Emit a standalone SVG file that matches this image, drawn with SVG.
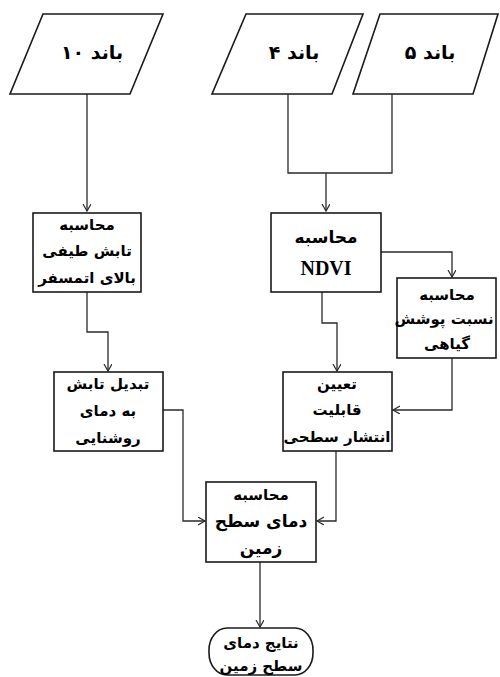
<svg xmlns="http://www.w3.org/2000/svg" width="500" height="677" viewBox="0 0 500 677">
<style>
.s{fill:#fff;stroke:#1a1a1a;stroke-width:1.6}
.c{fill:none;stroke:#2a2a2a;stroke-width:1.3}
.t{font-family:"DejaVu Sans",sans-serif;font-weight:bold;font-size:15px;fill:#000;text-anchor:middle}
.b{font-size:17px}
.g{font-size:19px}
.n{font-family:"Liberation Serif",serif;font-weight:bold;font-size:20px;fill:#000;text-anchor:middle}
</style>
<defs>
<marker id="a" markerUnits="userSpaceOnUse" markerWidth="10" markerHeight="10" refX="7" refY="4" orient="auto">
<path d="M0,0 L7,4 L0,8" fill="none" stroke="#2a2a2a" stroke-width="1.2"/>
</marker>
</defs>
<rect width="500" height="677" fill="#fff"/>
<g id="connectors">
<path class="c" d="M87,94 V211" marker-end="url(#a)"/>
<path class="c" d="M288,94 V173 H392 V94"/>
<path class="c" d="M326,173 V211" marker-end="url(#a)"/>
<path class="c" d="M381,252 H452 V277" marker-end="url(#a)"/>
<path class="c" d="M87,292 V332 H108 V371" marker-end="url(#a)"/>
<path class="c" d="M322,292 V323 H337 V371" marker-end="url(#a)"/>
<path class="c" d="M452,358 V410 H393" marker-end="url(#a)"/>
<path class="c" d="M163,410 H183 V521 H205" marker-end="url(#a)"/>
<path class="c" d="M336,451 V521 H317" marker-end="url(#a)"/>
<path class="c" d="M260,562 V627" marker-end="url(#a)"/>
</g>
<g id="band10">
<polygon class="s" points="43,14 163,14 130,94 10,94"/>
<text class="t g" x="92" y="59" direction="rtl">باند ۱۰</text>
</g>
<g id="band4">
<polygon class="s" points="246,14 363,14 332,94 212,94"/>
<text class="t g" x="294" y="59" direction="rtl">باند ۴</text>
</g>
<g id="band5">
<polygon class="s" points="380,14 498,14 473,94 353,94"/>
<text class="t g" x="430" y="59" direction="rtl">باند ۵</text>
</g>
<g id="toa">
<rect class="s" x="33" y="213" width="108" height="79"/>
<text class="t" x="87" y="230" direction="rtl">محاسبه</text>
<text class="t" x="87" y="256" direction="rtl">تابش طیفی</text>
<text class="t" x="87" y="283" direction="rtl">بالای اتمسفر</text>
</g>
<g id="ndvi">
<rect class="s" x="271" y="213" width="110" height="79"/>
<text class="t b" x="326" y="243" direction="rtl">محاسبه</text>
<text class="n" x="326" y="275">NDVI</text>
</g>
<g id="veg">
<rect class="s" x="397" y="278" width="99" height="80"/>
<text class="t" x="447" y="300" direction="rtl">محاسبه</text>
<text class="t" x="444" y="324" direction="rtl">نسبت پوشش</text>
<text class="t" x="447" y="349" direction="rtl">گیاهی</text>
</g>
<g id="bt">
<rect class="s" x="54" y="372" width="109" height="79"/>
<text class="t" x="108" y="389" direction="rtl">تبدیل تابش</text>
<text class="t" x="108" y="416" direction="rtl">به دمای</text>
<text class="t" x="108" y="443" direction="rtl">روشنایی</text>
</g>
<g id="emis">
<rect class="s" x="283" y="372" width="109" height="79"/>
<text class="t" x="337" y="389" direction="rtl">تعیین</text>
<text class="t" x="337" y="415" direction="rtl">قابلیت</text>
<text class="t" x="337" y="442" direction="rtl">انتشار سطحی</text>
</g>
<g id="lst">
<rect class="s" x="206" y="482" width="110" height="80"/>
<text class="t" x="261" y="500" direction="rtl">محاسبه</text>
<text class="t b" x="261" y="527" direction="rtl">دمای سطح</text>
<text class="t b" x="261" y="554" direction="rtl">زمین</text>
</g>
<g id="result">
<rect class="s" x="209" y="628" width="104" height="47" rx="18" ry="22"/>
<text class="t" x="261" y="648" direction="rtl">نتایج دمای</text>
<text class="t" x="261" y="671" direction="rtl">سطح زمین</text>
</g>
</svg>
